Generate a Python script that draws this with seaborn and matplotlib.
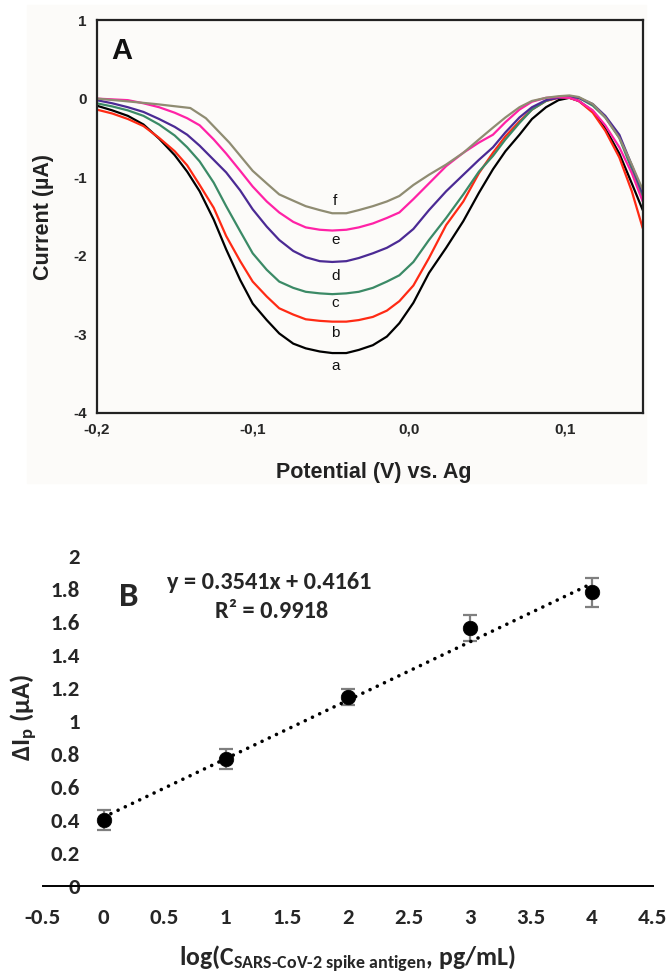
import pandas as pd
import seaborn as sns
import matplotlib.pyplot as plt
from matplotlib import font_manager as fm
from matplotlib.ticker import FixedLocator, FuncFormatter
from matplotlib.patches import Rectangle

# Panel A: DPV curves (potential in V, current in uA)
potential = [-0.200, -0.190, -0.180, -0.170, -0.160, -0.150, -0.142, -0.134, -0.125,
             -0.117, -0.108, -0.100, -0.091, -0.083, -0.074, -0.066, -0.057, -0.049,
             -0.040, -0.032, -0.023, -0.014, -0.006, 0.003, 0.013, 0.024, 0.035,
             0.045, 0.054, 0.062, 0.071, 0.079, 0.088, 0.096, 0.103, 0.109, 0.118,
             0.126, 0.135, 0.143, 0.150]
curr_a = [-0.09, -0.15, -0.22, -0.33, -0.51, -0.72, -0.93, -1.18, -1.54, -1.92, -2.31,
          -2.61, -2.82, -2.99, -3.12, -3.18, -3.22, -3.24, -3.24, -3.20, -3.14, -3.03,
          -2.86, -2.60, -2.22, -1.90, -1.56, -1.20, -0.90, -0.67, -0.46, -0.26, -0.11,
          -0.02, 0.01, -0.03, -0.16, -0.38, -0.70, -1.08, -1.42]
curr_b = [-0.14, -0.19, -0.26, -0.35, -0.50, -0.67, -0.85, -1.10, -1.39, -1.75, -2.07,
          -2.33, -2.52, -2.67, -2.75, -2.81, -2.83, -2.84, -2.84, -2.82, -2.78, -2.70,
          -2.58, -2.38, -2.03, -1.61, -1.31, -0.95, -0.69, -0.48, -0.29, -0.14, -0.03,
          0.01, 0.01, -0.03, -0.18, -0.41, -0.75, -1.18, -1.65]
curr_c = [-0.06, -0.10, -0.15, -0.22, -0.33, -0.47, -0.62, -0.80, -1.07, -1.37, -1.69,
          -1.97, -2.18, -2.33, -2.41, -2.46, -2.48, -2.49, -2.48, -2.46, -2.41, -2.33,
          -2.25, -2.08, -1.80, -1.52, -1.22, -0.93, -0.73, -0.52, -0.31, -0.14, -0.03,
          0.02, 0.03, 0.01, -0.09, -0.24, -0.50, -0.90, -1.26]
curr_d = [-0.02, -0.06, -0.11, -0.17, -0.26, -0.36, -0.46, -0.60, -0.78, -0.94, -1.17,
          -1.41, -1.63, -1.80, -1.94, -2.02, -2.07, -2.08, -2.07, -2.03, -1.97, -1.90,
          -1.81, -1.66, -1.42, -1.18, -0.97, -0.78, -0.62, -0.43, -0.24, -0.11, -0.02,
          0.01, 0.02, 0.01, -0.07, -0.22, -0.46, -0.85, -1.20]
curr_e = [0.00, -0.01, -0.02, -0.06, -0.11, -0.18, -0.25, -0.34, -0.52, -0.70, -0.92,
          -1.12, -1.31, -1.45, -1.57, -1.64, -1.67, -1.68, -1.67, -1.64, -1.59, -1.52,
          -1.45, -1.28, -1.08, -0.86, -0.69, -0.56, -0.46, -0.30, -0.14, -0.04, 0.01,
          0.02, 0.01, -0.03, -0.15, -0.34, -0.62, -0.95, -1.31]
# curve f has a kink near -0.14 V, so it gets its own potentials
potential_f = [-0.200, -0.183, -0.162, -0.140, -0.130, -0.115, -0.100, -0.091, -0.083,
               -0.074, -0.066, -0.057, -0.049, -0.040, -0.032, -0.023, -0.014, -0.006,
               0.003, 0.013, 0.024, 0.035, 0.045, 0.054, 0.062, 0.071, 0.079, 0.088,
               0.096, 0.103, 0.109, 0.118, 0.126, 0.135, 0.143, 0.150]
curr_f = [0.00, -0.03, -0.07, -0.12, -0.25, -0.56, -0.92, -1.08, -1.22, -1.30, -1.37,
          -1.42, -1.46, -1.46, -1.42, -1.37, -1.31, -1.24, -1.10, -0.97, -0.84, -0.69,
          -0.52, -0.37, -0.24, -0.11, -0.03, 0.01, 0.03, 0.04, 0.02, -0.07, -0.24,
          -0.50, -0.84, -1.16]

curve_names = ['a', 'b', 'c', 'd', 'e', 'f']
curve_colors = ['#000000', '#ff2a14', '#3b8a66', '#4b2a94', '#ff22a6', '#8f8c72']
letter_y = [-3.41, -2.98, -2.60, -2.26, -1.80, -1.31]
letter_x = -0.047

# Panel B: calibration plot
log_conc = [0, 1, 2, 3, 4]
delta_ip = [0.40, 0.77, 1.145, 1.565, 1.78]
delta_err = [0.06, 0.06, 0.05, 0.078, 0.089]
slope, intercept, r2 = 0.3541, 0.4161, 0.9918

# long table for seaborn
rows = []
for name, cur in zip(curve_names[:5], [curr_a, curr_b, curr_c, curr_d, curr_e]):
    for v, i in zip(potential, cur):
        rows.append({'curve': name, 'V': v, 'I': i})
for v, i in zip(potential_f, curr_f):
    rows.append({'curve': 'f', 'V': v, 'I': i})
dpv = pd.DataFrame(rows)


def bold_family(candidates):
    # first family that really has a bold face installed
    for fam in candidates:
        for f in fm.fontManager.ttflist:
            w = f.weight if isinstance(f.weight, int) else 700 if 'bold' in str(f.weight) else 400
            if f.name == fam and w >= 600:
                return fam
    return 'DejaVu Sans'


fontB = bold_family(['Carlito', 'Lato', 'Open Sans', 'Noto Sans', 'Liberation Sans'])

sns.set_style('white')
plt.rcParams['mathtext.fontset'] = 'custom'
plt.rcParams['mathtext.rm'] = fontB + ':bold'
plt.rcParams['mathtext.bf'] = fontB + ':bold'
plt.rcParams['mathtext.it'] = fontB + ':bold:italic'
plt.rcParams['mathtext.default'] = 'regular'

fig = plt.figure(figsize=(6.7, 9.73), dpi=100)
bg = '#fcfbf9'
fig.patches.append(Rectangle((27 / 670, 1 - 483 / 973), 619 / 670, 478 / 973,
                             transform=fig.transFigure, color=bg, zorder=-10))

# ---------------- panel A ----------------
axA = fig.add_axes([0.1443, 0.5758, 0.815, 0.4036])
axA.set_facecolor(bg)
sns.lineplot(data=dpv, x='V', y='I', hue='curve', hue_order=curve_names,
             palette=dict(zip(curve_names, curve_colors)), estimator=None,
             sort=False, legend=False, linewidth=1.6, ax=axA)
axA.set_xlim(-0.2, 0.15)
axA.set_ylim(-4, 1)
axA.xaxis.set_major_locator(FixedLocator([-0.2, -0.1, 0.0, 0.1]))
axA.yaxis.set_major_locator(FixedLocator([-4, -3, -2, -1, 0, 1]))
axA.xaxis.set_major_formatter(FuncFormatter(lambda v, p: f'{v:.1f}'.replace('.', ',').replace('-0,0', '0,0')))
axA.yaxis.set_major_formatter(FuncFormatter(lambda v, p: f'{v:g}'))
axA.tick_params(direction='out', length=4, width=1.2, color='#222222', pad=3)
for lab in axA.get_xticklabels() + axA.get_yticklabels():
    lab.set_fontfamily('Liberation Sans')
    lab.set_fontweight('bold')
    lab.set_fontsize(11)
for sp in axA.spines.values():
    sp.set_linewidth(1.6)
    sp.set_color('#222222')
axA.set_xlabel('Potential (V) vs. Ag', fontsize=15.5, fontweight='bold',
               fontfamily='Liberation Sans', color='#222222', va='top')
axA.set_ylabel('Current (µA)', fontsize=15.5, fontweight='bold',
               fontfamily='Liberation Sans', color='#222222')
axA.xaxis.set_label_coords(0.507, -0.125)
axA.yaxis.set_label_coords(-0.078, 0.498)
for name, y in zip(curve_names, letter_y):
    axA.text(letter_x, y, name, fontsize=11, fontfamily='Liberation Sans',
             ha='center', va='center', color='#111111')
axA.text(-0.184, 0.6, 'A', fontsize=21, fontweight='bold', fontfamily='Liberation Sans',
         ha='center', va='center', color='#111111')

# ---------------- panel B ----------------
axB = fig.add_axes([0.0637, 0.0897, 0.9105, 0.3389])
axB.errorbar(log_conc, delta_ip, yerr=delta_err, fmt='none', ecolor='#7f7f7f',
             elinewidth=1.6, capsize=4.7, capthick=1.6, zorder=2)
fit_x = [log_conc[0], log_conc[-1]]
fit_y = [slope * x + intercept for x in fit_x]
sns.lineplot(x=fit_x, y=fit_y, ax=axB, color='black', linewidth=2.6,
             linestyle=(0, (0.01, 2.2)), dash_capstyle='round', zorder=3)
sns.scatterplot(x=log_conc, y=delta_ip, ax=axB, color='black', s=110,
                edgecolor='black', linewidth=0.5, zorder=4, legend=False)
axB.set_xlim(-0.5, 4.5)
axB.set_ylim(0, 2)
axB.xaxis.set_major_locator(FixedLocator([-0.5 + 0.5 * k for k in range(11)]))
axB.yaxis.set_major_locator(FixedLocator([0.2 * k for k in range(11)]))
axB.xaxis.set_major_formatter(FuncFormatter(lambda v, p: f'{v:g}'))
axB.yaxis.set_major_formatter(FuncFormatter(lambda v, p: f'{v:g}'))
for side in ['top', 'right', 'left']:
    axB.spines[side].set_visible(False)
axB.spines['left'].set_position(('data', 0))
axB.spines['bottom'].set_linewidth(1.4)
axB.spines['bottom'].set_color('black')
axB.tick_params(axis='x', direction='out', length=6, width=1.4, pad=10)
axB.tick_params(axis='y', length=0, pad=17)
for lab in axB.get_xticklabels() + axB.get_yticklabels():
    lab.set_fontfamily(fontB)
    lab.set_fontweight('bold')
    lab.set_fontsize(16.5)
axB.set_xlabel(r'log(C$_{\text{SARS-CoV-2 spike antigen}}$, pg/mL)', fontsize=18.5,
               fontweight='bold', fontfamily=fontB, va='top')
axB.set_ylabel(r'ΔI$_{p}$ (µA)', fontsize=19, fontweight='bold', fontfamily=fontB)
axB.xaxis.set_label_coords(0.499, -0.175)
axB.yaxis.set_label_coords(-0.004, 0.51)
axB.text(0.207, 1.755, 'B', fontsize=25, fontweight='bold', fontfamily=fontB,
         ha='center', va='center')
axB.text(1.355, 1.84, f'y = {slope}x + {intercept}', fontsize=17.5, fontweight='bold',
         fontfamily=fontB, ha='center', va='center')
axB.text(1.38, 1.664, f'R² = {r2}', fontsize=17.5, fontweight='bold',
         fontfamily=fontB, ha='center', va='center')

fig.savefig('out.png', dpi=100)
